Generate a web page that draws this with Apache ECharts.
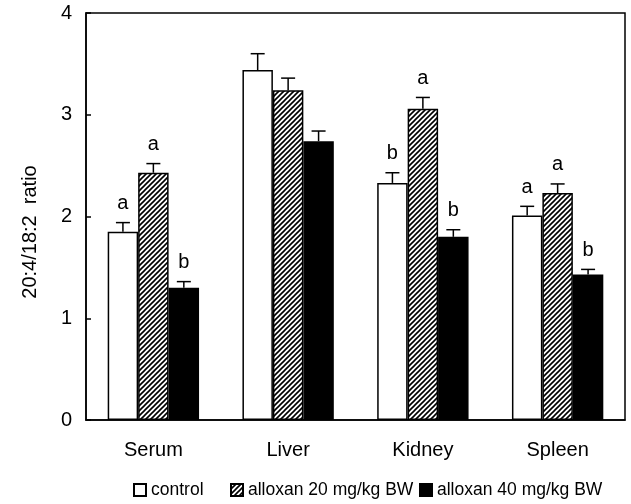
<!DOCTYPE html>
<html>
<head>
<meta charset="utf-8">
<script src="https://cdn.jsdelivr.net/npm/echarts@6/dist/echarts.min.js"></script>
<style>html,body{margin:0;padding:0;background:#fff}#c{width:631px;height:504px}</style>
</head>
<body>
<div id="c"></div>
<script>
const categories = ['Serum', 'Liver', 'Kidney', 'Spleen'];
const seriesNames = ['control', 'alloxan 20 mg/kg BW', 'alloxan 40 mg/kg BW'];
const controlValues = [1.85, 3.44, 2.33, 2.01];
const controlErrors = [0.09, 0.16, 0.10, 0.09];
const controlLetters = ['a', '', 'b', 'a'];
const dose20Values = [2.43, 3.24, 3.06, 2.23];
const dose20Errors = [0.09, 0.12, 0.11, 0.09];
const dose20Letters = ['a', '', 'a', 'a'];
const dose40Values = [1.30, 2.74, 1.80, 1.43];
const dose40Errors = [0.06, 0.10, 0.07, 0.05];
const dose40Letters = ['b', '', 'b', 'b'];
const yTicks = [0, 1, 2, 3, 4];
const yAxisTitle = '20:4/18:2  ratio';

const FONT = 'Liberation Sans, Arial, sans-serif';
const FS = 20;
const LFS = 17.5;
const BAR_PCT = 0.226;

// hatch pattern
const pc = document.createElement('canvas');
pc.width = 5; pc.height = 5;
const g = pc.getContext('2d');
g.fillStyle = '#fff'; g.fillRect(0, 0, 5, 5);
g.strokeStyle = '#000'; g.lineWidth = 1.6;
g.beginPath();
g.moveTo(-1, 6); g.lineTo(6, -1);
g.moveTo(-1, 1); g.lineTo(1, -1);
g.moveTo(4, 6); g.lineTo(6, 4);
g.stroke();
const hatch = { image: pc, repeat: 'repeat' };

const fills = ['#ffffff', hatch, '#000000'];
const allValues = [controlValues, dose20Values, dose40Values];
const allErrors = [controlErrors, dose20Errors, dose40Errors];
const allLetters = [controlLetters, dose20Letters, dose40Letters];

const series = [];
for (let k = 0; k < 3; k++) {
  series.push({
    name: seriesNames[k],
    type: 'bar',
    barWidth: (BAR_PCT * 100) + '%',
    barGap: '0%',
    data: allValues[k],
    itemStyle: { color: fills[k], borderColor: '#000', borderWidth: 1.5 },
    emphasis: { disabled: true },
    z: 2
  });
}
for (let k = 0; k < 3; k++) {
  series.push({
    type: 'custom',
    name: 'err' + k,
    z: 5,
    silent: true,
    data: categories.map((c, i) => [i, allValues[k][i], allErrors[k][i]]),
    renderItem: function (params, api) {
      const i = api.value(0);
      const v = api.value(1);
      const e = api.value(2);
      const base = api.coord([i, v]);
      const top = api.coord([i, v + e]);
      const band = api.size([1, 0])[0];
      const bw = band * BAR_PCT;
      const x = base[0] + (k - 1) * bw;
      const style = { stroke: '#000', lineWidth: 1.5 };
      const children = [
        { type: 'line', shape: { x1: x, y1: base[1], x2: x, y2: top[1] }, style: style },
        { type: 'line', shape: { x1: x - 7, y1: top[1], x2: x + 7, y2: top[1] }, style: style }
      ];
      const letter = allLetters[k][i];
      if (letter) {
        children.push({
          type: 'text',
          style: { text: letter, x: x, y: top[1] - 9, align: 'center', verticalAlign: 'bottom', fill: '#000', font: FS + 'px ' + FONT }
        });
      }
      return { type: 'group', children: children };
    }
  });
}

const legendStyle = { fontSize: LFS, color: '#000', fontFamily: FONT };
const legendBase = { top: 481, padding: 0, itemWidth: 12, itemHeight: 12, icon: 'rect', textStyle: legendStyle, selectedMode: false };
const chart = echarts.init(document.getElementById('c'), null, { renderer: 'canvas' });
chart.setOption({
  animation: false,
  textStyle: { fontFamily: FONT },
  grid: { left: 86, right: 6, top: 13, bottom: 84, show: true, borderColor: '#000', borderWidth: 1.5, backgroundColor: 'transparent' },
  legend: [
    Object.assign({ data: [seriesNames[0]], left: 133 }, legendBase),
    Object.assign({ data: [seriesNames[1]], left: 230 }, legendBase),
    Object.assign({ data: [seriesNames[2]], left: 419 }, legendBase)
  ],
  graphic: [{
    type: 'text',
    x: 30, y: 232,
    rotation: Math.PI / 2,
    style: { text: yAxisTitle, align: 'center', verticalAlign: 'middle', fill: '#000', font: FS + 'px ' + FONT }
  }],
  xAxis: {
    type: 'category',
    data: categories,
    axisLine: { lineStyle: { color: '#000', width: 1.5 } },
    axisTick: { inside: true, length: 5, lineStyle: { color: '#000', width: 1.5 } },
    axisLabel: { color: '#000', fontSize: FS, margin: 20, fontFamily: FONT }
  },
  yAxis: {
    type: 'value',
    min: yTicks[0],
    max: yTicks[yTicks.length - 1],
    interval: 1,
    axisLine: { show: true, lineStyle: { color: '#000', width: 1.5 } },
    axisTick: { show: true, inside: true, length: 5, lineStyle: { color: '#000', width: 1.5 } },
    axisLabel: { color: '#000', fontSize: FS, margin: 14, fontFamily: FONT },
    splitLine: { show: false }
  },
  series: series
});
</script>
</body>
</html>
